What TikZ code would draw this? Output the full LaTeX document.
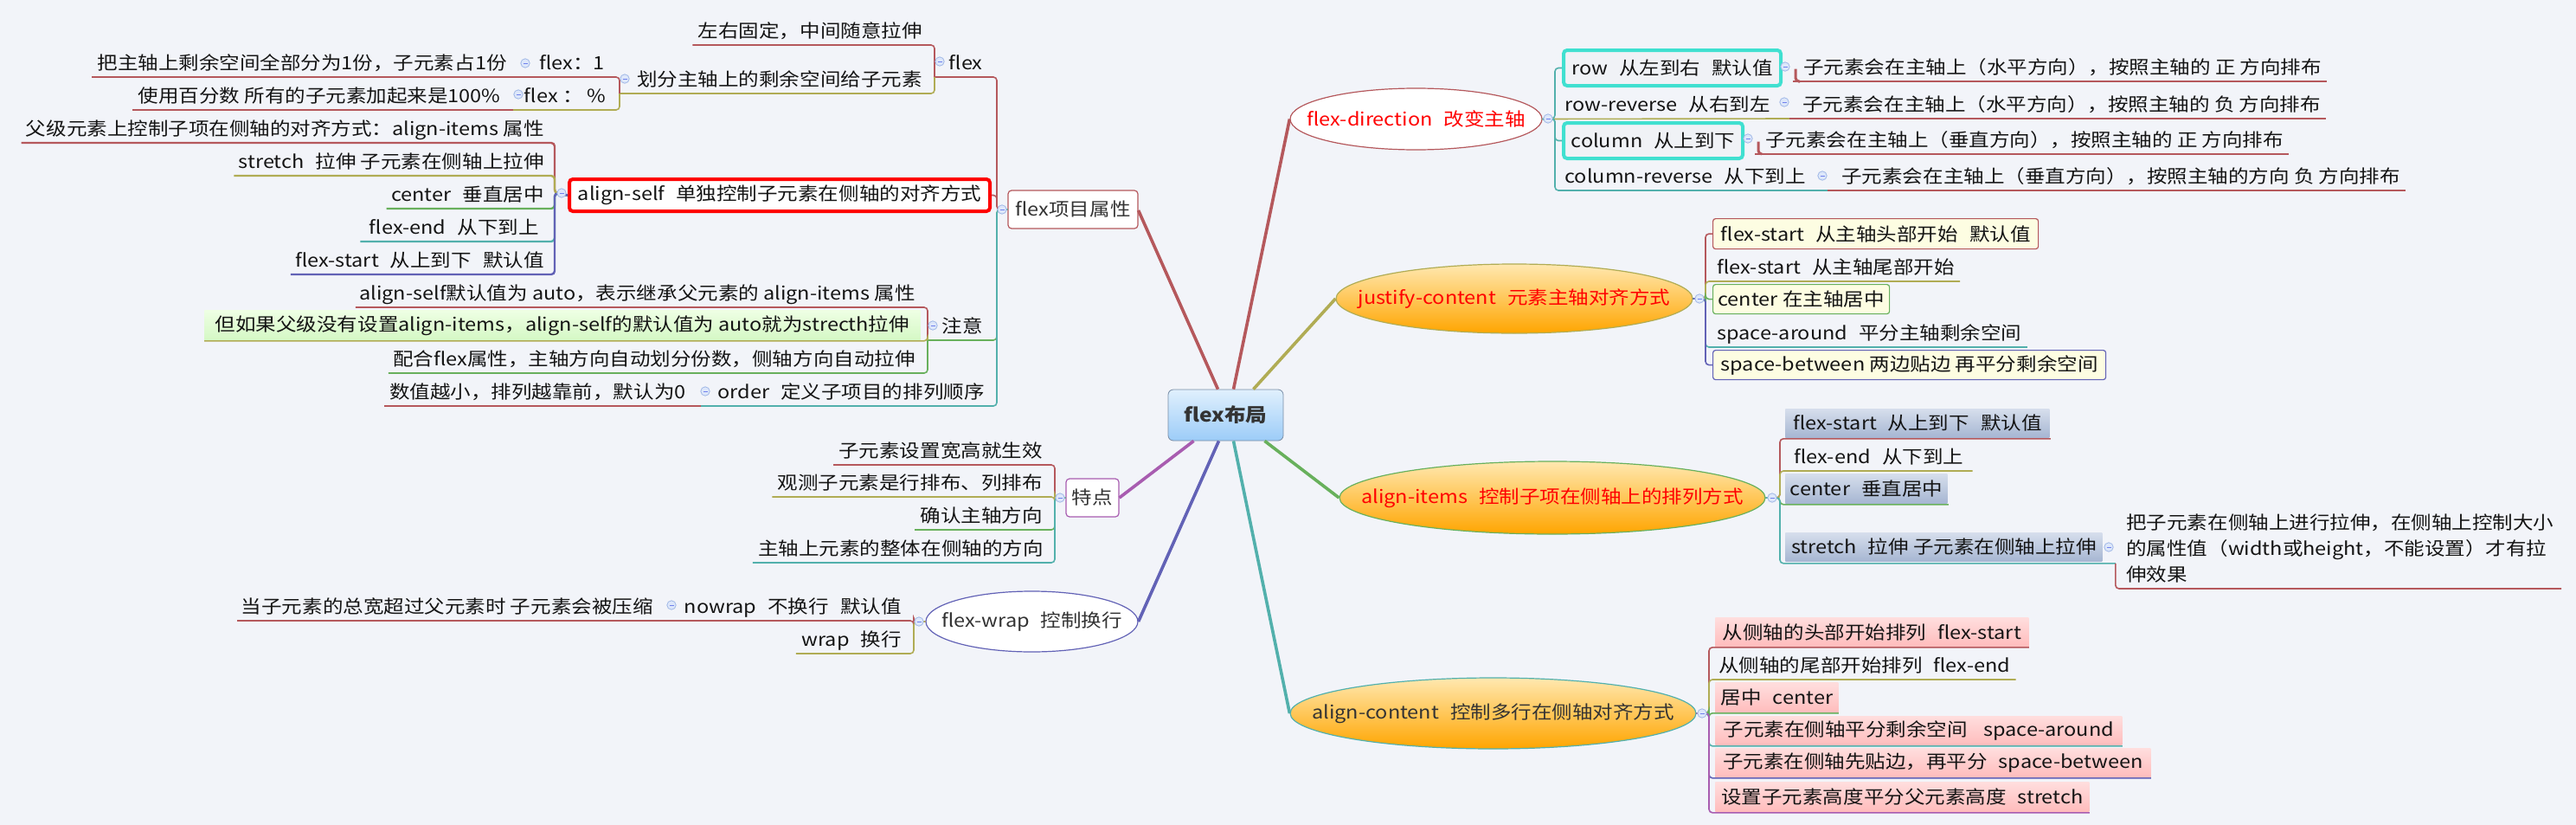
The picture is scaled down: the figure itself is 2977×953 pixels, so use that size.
\documentclass[tikz,border=0pt]{standalone}
\usepackage{fontspec}
\setmainfont{Noto Sans CJK SC}[FakeStretch=1.12]
\usetikzlibrary{shapes.geometric,calc}
\definecolor{bgc}{RGB}{242,244,249}
\definecolor{cR}{RGB}{181,88,92}
\definecolor{cO}{RGB}{176,172,84}
\definecolor{cG}{RGB}{104,176,92}
\definecolor{cT}{RGB}{82,176,172}
\definecolor{cB}{RGB}{98,98,182}
\definecolor{cP}{RGB}{168,92,176}
\definecolor{tq}{RGB}{64,224,208}
\definecolor{txt}{RGB}{20,20,20}
\definecolor{dk}{RGB}{51,51,51}
\definecolor{yel}{RGB}{253,253,226}
\definecolor{pk1}{RGB}{255,222,222}
\definecolor{pk2}{RGB}{255,188,188}
\definecolor{bg1}{RGB}{214,222,236}
\definecolor{bg2}{RGB}{166,182,210}
\definecolor{gr1}{RGB}{238,255,228}
\definecolor{gr2}{RGB}{212,248,196}
\definecolor{or1}{RGB}{255,232,176}
\definecolor{or2}{RGB}{255,165,0}
\definecolor{bl1}{RGB}{224,240,253}
\definecolor{bl2}{RGB}{156,204,248}
\definecolor{knf}{RGB}{221,231,250}
\definecolor{knd}{RGB}{160,184,230}
\definecolor{tqf}{RGB}{240,242,246}
\newcommand\gp{\hspace{6.5pt}}
\newcommand\mybox[7]{\node[#1, minimum width={(#5-#3)*0.5}, minimum height={(#6-#4)*0.5}] (#2) at (#3,#4) {#7};}
\newcommand\myknob[2]{\filldraw[fill=knf, draw=knd, line width=0.4pt] (#1,#2) circle (2.6pt); \draw[knd!70!blue, line width=0.5pt] (#1-2.5,#2) -- (#1+2.5,#2);}
\tikzset{
  lt/.style={anchor=base east, inner sep=0pt, text=txt},
  rt/.style={anchor=base west, inner sep=0pt, text=txt},
  ln/.style={line width=0.8pt, rounded corners=2pt},
  trunk/.style={line width=1.8pt},
  bxs/.style={anchor=north west, inner sep=0pt, text=txt},
  tqbox/.style={bxs, draw=tq, line width=2pt, fill=tqf, rounded corners=2pt},
  ylbox/.style={bxs, fill=yel, line width=0.6pt, rounded corners=1.5pt},
  pkbox/.style={bxs, top color=pk1, bottom color=pk2},
  bgbox/.style={bxs, top color=bg1, bottom color=bg2},
  grbox/.style={bxs, top color=gr1, bottom color=gr2},
  asbox/.style={bxs, fill=white, draw=red, line width=2pt, rounded corners=2pt},
  oval/.style={ellipse, inner sep=0pt, line width=0.6pt},
  orel/.style={oval, top color=or1, bottom color=or2},
  whel/.style={oval, fill=white},
  subj/.style={rectangle, rounded corners=2pt, fill=white, line width=0.6pt, inner sep=0pt, text=dk},
}
\begin{document}
\begin{tikzpicture}[x=0.5pt, y=-0.5pt, font=\fontsize{10.5}{12.6}\selectfont]
\useasboundingbox (0,0) rectangle (2977,953);
\fill[bgc] (0,0) rectangle (2977,953);

% root and main topics
\node[draw={rgb,255:red,120;green,140;blue,165}, top color=bl1, bottom color=bl2, rounded corners=3pt, minimum width=66.5pt, minimum height=29.5pt, inner sep=0pt, text=dk, font=\fontsize{11}{13}\selectfont\bfseries] (root) at (1416.5,479.5) {flex布局};
\node[whel, draw=cR, minimum width=145.5pt, minimum height=35.5pt, label={[text=red]center:flex-direction\gp 改变主轴}] (fd) at (1636.5,137.5) {};
\node[orel, draw=cO, minimum width=206pt, minimum height=40pt, label={[text=red]center:justify-content\gp 元素主轴对齐方式}] (jc) at (1750,345) {};
\node[orel, draw=cG, minimum width=246pt, minimum height=42pt, label={[text=red]center:align-items\gp 控制子项在侧轴上的排列方式}] (ai) at (1794,575) {};
\node[orel, draw=cT, minimum width=234.5pt, minimum height=41pt, label={[text=dk]center:align-content\gp 控制多行在侧轴对齐方式}] (ac) at (1725.5,824) {};
\node[whel, draw=cB, minimum width=122.5pt, minimum height=35pt, label={[text=dk]center:flex-wrap\gp 控制换行}] (fw) at (1192.5,718) {};
\node[subj, draw=cR, minimum width=75pt, minimum height=22pt] (fp) at (1240,242) {flex项目属性};
\node[subj, draw=cP, minimum width=30.5pt, minimum height=22pt] (td) at (1262.5,575) {特点};

\draw[trunk,cR] ($(root.north)+(9,0)$) -- (fd.west);
\draw[trunk,cO] ($(root.north)+(32,0)$) -- (jc.west);
\draw[trunk,cG] ($(root.south)+(45,0)$) -- (ai.west);
\draw[trunk,cT] ($(root.south)+(9,0)$) -- (ac.west);
\draw[trunk,cB] ($(root.south)+(-8,0)$) -- (fw.east);
\draw[trunk,cP] ($(root.south)+(-37,0)$) -- (td.east);
\draw[trunk,cR] ($(root.north)+(-9,0)$) -- ($(fp.east)+(0,1)$);

% ---------- flex-direction ----------
\coordinate (fdb) at (1797,137);
\mybox{tqbox}{row}{1805}{56}{2056}{97}{row\gp 从左到右\gp 默认值}
\draw[ln,cT] (fd.east) -- (fdb) |- (row.west);
\node[rt] (rowc) at (2084,85) {子元素会在主轴上（水平方向），按照主轴的 正 方向排布};
\draw[ln,cR] ($(rowc.base west)+(-12,9)$) -- ($(rowc.base east)+(6,9)$);
\draw[cR, line width=1.5pt, rounded corners=2pt] ($(row.east)+(15,1)$) |- ($(rowc.base west)+(-4,9)$);

\node[rt] (rr) at (1808,128) {row-reverse\gp 从右到左};
\node[rt] (rrc) at (2083,128) {子元素会在主轴上（水平方向），按照主轴的 负 方向排布};
\draw[ln,cO] (fd.east) -- ($(rrc.base west)+(-15,9)$);
\draw[ln,cR] ($(rrc.base west)+(-15,9)$) -- ($(rrc.base east)+(6,9)$);

\mybox{tqbox}{col}{1805}{140}{2012}{181}{column\gp 从上到下}
\draw[ln,cT] (fd.east) -- (fdb) |- (col.west);
\node[rt] (colc) at (2040,169) {子元素会在主轴上（垂直方向），按照主轴的 正 方向排布};
\draw[ln,cR] ($(colc.base west)+(-12,9)$) -- ($(colc.base east)+(6,9)$);
\draw[cR, line width=1.5pt, rounded corners=2pt] ($(col.east)+(16,1)$) |- ($(colc.base west)+(-4,9)$);

\node[rt] (cr) at (1808,211) {column-reverse\gp 从下到上};
\node[rt] (crc) at (2128,211) {子元素会在主轴上（垂直方向），按照主轴的方向 负 方向排布};
\draw[ln,cT] (fd.east) -- (fdb) |- ($(crc.base west)+(-16,9)$);
\draw[ln,cR] ($(crc.base west)+(-16,9)$) -- ($(crc.base east)+(6,9)$);

% ---------- justify-content ----------
\coordinate (jcb) at (1971,345);
\mybox{ylbox,draw=cR}{j1}{1979}{252}{2355}{287}{flex-start\gp 从主轴头部开始\gp 默认值}
\draw[ln,cR] (jc.east) -- (jcb) |- (j1.west);
\node[rt] (j2) at (1984,316) {flex-start\gp 从主轴尾部开始};
\draw[ln,cO] (jc.east) -- (jcb) |- ($(j2.base east)+(6,9)$);
\mybox{ylbox,draw=cG}{j3}{1979}{328}{2183}{362}{center 在主轴居中}
\draw[ln,cG] (jc.east) -- (jcb) |- (j3.west);
\node[rt] (j4) at (1984,392) {space-around\gp 平分主轴剩余空间};
\draw[ln,cT] (jc.east) -- (jcb) |- ($(j4.base east)+(6,9)$);
\mybox{ylbox,draw=cB}{j5}{1979}{404}{2433}{438}{space-between 两边贴边 再平分剩余空间}
\draw[ln,cB] (jc.east) -- (jcb) |- (j5.west);

% ---------- align-items ----------
\coordinate (aib) at (2057,575);
\mybox{bgbox}{a1}{2063}{472}{2368}{505}{flex-start\gp 从上到下\gp 默认值}
\draw[ln,cR] (ai.east) -- (aib) |- ($(a1.south east)+(1,1)$);
\node[rt] (a2) at (2073,535) {flex-end\gp 从下到上};
\draw[ln,cO] (ai.east) -- (aib) |- ($(a2.base east)+(10,9)$);
\mybox{bgbox}{a3}{2063}{547}{2250}{581}{center\gp 垂直居中}
\draw[ln,cG] (ai.east) -- (aib) |- ($(a3.south east)+(1,1)$);
\mybox{bgbox}{a4}{2063}{615}{2429}{648}{stretch\gp 拉伸 子元素在侧轴上拉伸}
\draw[ln,cT] (ai.east) -- (aib) |- ($(a4.south east)+(15,2)$);
\node[rt, align=left, anchor=north west, font=\fontsize{10.5}{15}\selectfont] (a4c) at (2457,593) {把子元素在侧轴上进行拉伸，在侧轴上控制大小\\的属性值（width或height，不能设置）才有拉\\伸效果};
\coordinate (a4u) at (2960,680);
\draw[ln,cR] ($(a4.south east)+(15,2)$) |- (a4u);

% ---------- align-content ----------
\coordinate (acb) at (1975,824);
\mybox{pkbox}{c1}{1982}{713}{2344}{747}{从侧轴的头部开始排列\gp flex-start}
\draw[ln,cR] (ac.east) -- (acb) |- (c1.south east);
\node[rt] (c2) at (1986,776) {从侧轴的尾部开始排列\gp flex-end};
\draw[ln,cO] (ac.east) -- (acb) |- ($(c2.base east)+(6,9)$);
\mybox{pkbox}{c3}{1982}{788}{2124}{823}{居中\gp center}
\draw[ln,cG] (ac.east) -- (acb) |- (c3.south east);
\mybox{pkbox}{c4}{1982}{827}{2452}{860}{子元素在侧轴平分剩余空间\gp\ space-around}
\draw[ln,cT] (ac.east) -- (acb) |- ($(c4.south east)+(0,1)$);
\mybox{pkbox}{c5}{1982}{864}{2485}{898}{子元素在侧轴先贴边，再平分\gp space-between}
\draw[ln,cB] (ac.east) -- (acb) |- (c5.south east);
\mybox{pkbox}{c6}{1982}{903}{2414}{937}{设置子元素高度平分父元素高度\gp stretch}
\draw[ln,cP] (ac.east) -- (acb) |- ($(c6.south east)+(0,1)$);

% ---------- flex项目属性 ----------
\coordinate (fpb) at (1152,242);
\node[lt] (flx) at (1136,80) {flex};
\coordinate (flxb) at (1080,89);
\draw[ln,cR] (fp.west) -- (fpb) |- (flxb);
\node[lt] (f1) at (1066,43) {左右固定，中间随意拉伸};
\draw[ln,cR] (flxb) |- ($(f1.base west)+(-6,9)$);
\node[lt] (f2) at (1066,99) {划分主轴上的剩余空间给子元素};
\coordinate (f2b) at (716,108);
\draw[ln,cO] (flxb) |- (f2b);
\node[lt] (f21) at (699,80) {flex：1};
\coordinate (f21b) at (600,89);
\draw[ln,cR] (f2b) |- (f21b);
\node[lt] (f211) at (586,80) {把主轴上剩余空间全部分为1份，子元素占1份};
\draw[ln,cR] (f21b) -- ($(f211.base west)+(-6,9)$);
\node[lt] (f22) at (701,118) {flex ： \%};
\coordinate (f22b) at (593,127);
\draw[ln,cO] (f2b) |- (f22b);
\node[lt] (f221) at (579,118) {使用百分数 所有的子元素加起来是100\%};
\draw[ln,cR] (f22b) -- ($(f221.base west)+(-6,9)$);

\mybox{asbox}{as}{656}{205}{1142}{242}{align-self\gp 单独控制子元素在侧轴的对齐方式}
\draw[ln,cR] (fp.west) -- (fpb) |- (as.east);
\coordinate (asb) at (641,223);
\node[lt] (s1) at (629,156) {父级元素上控制子项在侧轴的对齐方式：align-items 属性};
\draw[ln,cR,line width=1.2pt] (as.west) -- (asb) |- ($(s1.base west)+(-5,9)$);
\node[lt] (s2) at (629,194) {stretch\gp 拉伸 子元素在侧轴上拉伸};
\draw[ln,cO,line width=1.2pt] (as.west) -- (asb) |- ($(s2.base west)+(-5,9)$);
\node[lt] (s3) at (629,232) {center\gp 垂直居中};
\draw[ln,cG,line width=1.2pt] (as.west) -- (asb) |- ($(s3.base west)+(-5,9)$);
\node[lt] (s4) at (623,270) {flex-end\gp 从下到上};
\draw[ln,cT,line width=1.2pt] (as.west) -- (asb) |- ($(s4.base west)+(-10,9)$);
\node[lt] (s5) at (629,308) {flex-start\gp 从上到下\gp 默认值};
\draw[ln,cB,line width=1.2pt] (as.west) -- (asb) |- ($(s5.base west)+(-5,9)$);

\node[lt] (zy) at (1136,384) {注意};
\coordinate (zyb) at (1072,393);
\draw[ln,cG] (fp.west) -- (fpb) |- (zyb);
\node[lt] (z1) at (1058,346) {align-self默认值为 auto，表示继承父元素的 align-items 属性};
\draw[ln,cR] (zyb) |- ($(z1.base west)+(-4,9)$);
\mybox{grbox}{z2}{236}{358}{1063}{393}{但如果父级没有设置align-items，align-self的默认值为 auto就为strecth拉伸}
\draw[ln,cO] (zyb) |- (z2.south west);
\node[lt] (z3) at (1058,422) {配合flex属性，主轴方向自动划分份数，侧轴方向自动拉伸};
\draw[ln,cG] (zyb) |- ($(z3.base west)+(-5,9)$);

\node[lt] (od) at (1138,460) {order\gp 定义子项目的排列顺序};
\coordinate (odb) at (810,469);
\draw[ln,cT] (fp.west) -- (fpb) |- (odb);
\node[lt] (o1) at (793,460) {数值越小，排列越靠前，默认为0};
\draw[ln,cR] (odb) -- ($(o1.base west)+(-6,9)$);

% ---------- 特点 ----------
\coordinate (tdb) at (1219,575);
\node[lt] (t1) at (1205,528) {子元素设置宽高就生效};
\draw[ln,cR] (td.west) -- (tdb) |- ($(t1.base west)+(-6,9)$);
\node[lt] (t2) at (1205,565) {观测子元素是行排布、列排布};
\draw[ln,cO] (td.west) -- (tdb) |- ($(t2.base west)+(-6,9)$);
\node[lt] (t3) at (1205,603) {确认主轴方向};
\draw[ln,cG] (td.west) -- (tdb) |- ($(t3.base west)+(-6,9)$);
\node[lt] (t4) at (1206,641) {主轴上元素的整体在侧轴的方向};
\draw[ln,cT] (td.west) -- (tdb) |- ($(t4.base west)+(-6,9)$);

% ---------- flex-wrap ----------
\coordinate (fwb) at (1056,718);
\node[lt] (w1) at (1042,708) {nowrap\gp 不换行\gp 默认值};
\coordinate (w1b) at (782,717);
\draw[ln,cR] (fw.west) -- (fwb) |- (w1b);
\node[lt] (w11) at (755,708) {当子元素的总宽超过父元素时 子元素会被压缩};
\draw[ln,cR] (w1b) -- ($(w11.base west)+(-5,9)$);
\node[lt] (w2) at (1042,746) {wrap\gp 换行};
\draw[ln,cO] (fw.west) -- (fwb) |- ($(w2.base west)+(-6,9)$);

% ---------- collapse knobs ----------
\myknob{1158}{242}\myknob{1086}{71}\myknob{722}{91}\myknob{607}{73}\myknob{599}{109}
\myknob{649}{223}\myknob{1078}{376}\myknob{815}{452}\myknob{1225}{575}\myknob{1062}{718}
\myknob{776}{699}
\myknob{1789}{137}\myknob{2063}{77}\myknob{2062}{118}\myknob{2020}{160}\myknob{2106}{203}
\myknob{1964}{345}\myknob{2048}{575}\myknob{2437}{632}\myknob{1967}{824}
\end{tikzpicture}
\end{document}
